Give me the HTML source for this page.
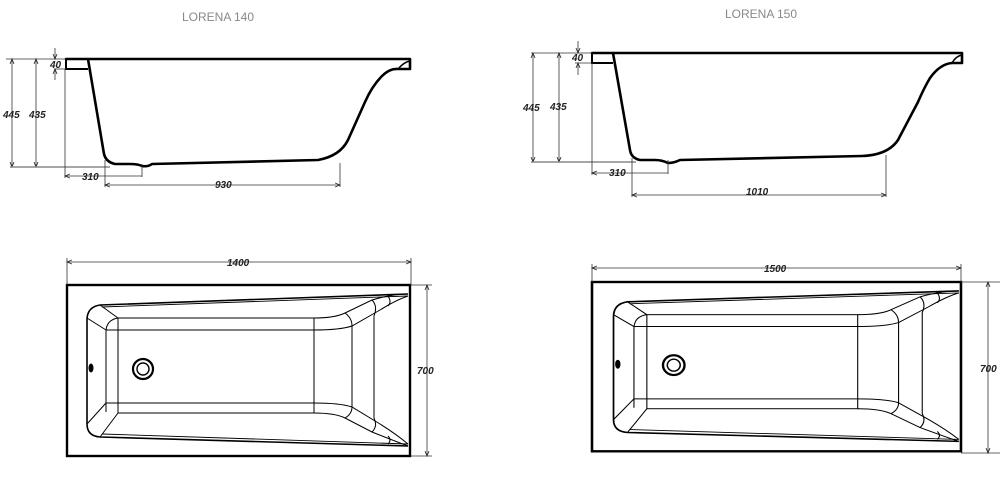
<!DOCTYPE html>
<html><head><meta charset="utf-8"><style>
html,body{margin:0;padding:0;background:#fff;width:1000px;height:482px;overflow:hidden}
svg{display:block}
text{font-family:"Liberation Sans",sans-serif;font-style:italic;font-weight:bold;font-size:10px;fill:#222}
.t{font-style:normal;font-weight:normal;font-size:12px;fill:#888}
</style></head><body>
<svg width="1000" height="482" viewBox="0 0 1000 482" xmlns="http://www.w3.org/2000/svg">
<defs>
<marker id="a" markerWidth="6" markerHeight="6" refX="5" refY="3" orient="auto-start-reverse" markerUnits="userSpaceOnUse"><path d="M0,1 L5,3 L0,5" fill="none" stroke="#222" stroke-width="0.8"/></marker>
</defs>
<text class="t" x="218" y="21" text-anchor="middle">LORENA 140</text>
<text class="t" x="761" y="18" text-anchor="middle">LORENA 150</text>

<!-- Side view 140 -->
<g fill="none" stroke="#000">
<path d="M66,59 L410,59 L410,69 L398,69 Q390,68 382,76 Q372,86 365,102 L348,140 Q340,156 318,160 L152,164 Q148,167 142,166 Q138,164 130,164 L115,164 Q106,162 104,154 L88,59 Z" stroke-width="2.6" stroke-linejoin="round"/>
<path d="M66,59 L66,69 L88,69" stroke-width="2"/>
<path d="M398,69 Q404,62 410,61" stroke-width="1.5"/>
<g stroke-width="0.8" stroke="#333">
<line x1="6" y1="59" x2="66" y2="59"/>
<line x1="12" y1="59" x2="12" y2="167" marker-start="url(#a)" marker-end="url(#a)"/>
<line x1="36" y1="59" x2="36" y2="167" marker-start="url(#a)" marker-end="url(#a)"/>
<line x1="10" y1="167" x2="110" y2="167" stroke="#888" stroke-width="1.5"/>
<line x1="55" y1="48" x2="55" y2="59" marker-end="url(#a)"/>
<line x1="55" y1="80" x2="55" y2="69" marker-end="url(#a)"/>
<line x1="54" y1="69" x2="66" y2="69"/>
<line x1="65" y1="69" x2="65" y2="178"/>
<line x1="65" y1="176" x2="142" y2="176" marker-start="url(#a)"/>
<line x1="142" y1="164" x2="142" y2="177"/>
<line x1="105" y1="160" x2="105" y2="187"/>
<line x1="105" y1="185" x2="340" y2="185" marker-start="url(#a)" marker-end="url(#a)"/>
<line x1="340" y1="163" x2="340" y2="187"/>
</g></g>
<text x="3" y="118">445</text><text x="29" y="118">435</text><text x="50" y="68">40</text>
<text x="82" y="180">310</text><text x="215" y="188">930</text>

<!-- Side view 150 -->
<g fill="none" stroke="#000">
<path d="M592,53 L962,53 L962,63 L952,63 Q940,64 930,78 Q924,88 918,102 L898,140 Q888,155 862,156 L680,160 Q674,163 668,163 Q662,160 655,160 L640,160 Q631,158 630,150 L613,53 Z" stroke-width="2.6" stroke-linejoin="round"/>
<path d="M592,53 L592,63 L613,63" stroke-width="2"/>
<path d="M952,63 Q956,56 962,55" stroke-width="1.5"/>
<g stroke-width="0.8" stroke="#333">
<line x1="531" y1="53" x2="592" y2="53"/>
<line x1="533" y1="53" x2="533" y2="162" marker-start="url(#a)" marker-end="url(#a)"/>
<line x1="559" y1="53" x2="559" y2="162" marker-start="url(#a)" marker-end="url(#a)"/>
<line x1="531" y1="162" x2="636" y2="162" stroke="#888" stroke-width="1.5"/>
<line x1="578" y1="41" x2="578" y2="53" marker-end="url(#a)"/>
<line x1="578" y1="75" x2="578" y2="63" marker-end="url(#a)"/>
<line x1="575" y1="63" x2="592" y2="63"/>
<line x1="592" y1="63" x2="592" y2="175"/>
<line x1="592" y1="173" x2="668" y2="173" marker-start="url(#a)"/>
<line x1="668" y1="160" x2="668" y2="174"/>
<line x1="632" y1="158" x2="632" y2="197"/>
<line x1="632" y1="195" x2="886" y2="195" marker-start="url(#a)" marker-end="url(#a)"/>
<line x1="886" y1="155" x2="886" y2="197"/>
</g></g>
<text x="523" y="111">445</text><text x="550" y="110">435</text><text x="572" y="61">40</text>
<text x="609" y="176">310</text><text x="746" y="195">1010</text>

<!-- Top view group -->
<g id="top" fill="none" stroke="#000">
<rect x="67" y="285" width="343" height="171" stroke-width="2.4"/>
<path d="M408,294 L100,305 Q87,307 87,320 L87,424 Q87,436 100,437 L408,446" stroke-width="1.6"/>
<path d="M408,296 L102,307" stroke-width="0.9"/>
<path d="M408,444 L102,434" stroke-width="0.9"/>
<g stroke-width="1">
<rect x="118" y="318" width="196" height="95"/>
<path d="M106,412 L106,332 Q106,320 118,318"/>
<path d="M106,330 L314,330 Q340,330 352,326 L380,310 Q396,300 408,296"/>
<path d="M314,318 Q335,318 345,313 L372,300 Q392,294 408,294"/>
<path d="M106,403 L314,403 Q340,403 352,407 L380,424 Q396,434 408,444"/>
<path d="M314,413 Q335,413 345,418 L372,432 Q392,440 408,446"/>
<path d="M100,305 L118,318 M87,318 L106,330 M100,437 L118,413 M87,424 L106,403"/>
<path d="M345,313 Q352,318 352,326 L352,407 Q352,414 345,418"/>
<path d="M372,300 Q378,306 374,316 L374,418 Q378,426 372,432"/>
<path d="M388,296 Q392,302 388,306 M388,436 Q392,440 388,444"/>
</g>
<circle cx="143" cy="369" r="10" stroke-width="2.2"/>
<circle cx="143" cy="369" r="6" stroke-width="1.4"/>
<ellipse cx="91" cy="368" rx="2" ry="4" fill="#000"/>
</g>
<g stroke="#333" stroke-width="0.8" fill="none">
<line x1="67" y1="258" x2="67" y2="285"/><line x1="411" y1="258" x2="411" y2="285"/>
<line x1="67" y1="262" x2="411" y2="262" marker-start="url(#a)" marker-end="url(#a)"/>
<line x1="411" y1="285" x2="432" y2="285"/><line x1="411" y1="456" x2="432" y2="456"/>
<line x1="427" y1="285" x2="427" y2="456" marker-start="url(#a)" marker-end="url(#a)"/>
</g>
<text x="227" y="266">1400</text><text x="417" y="374">700</text>

<use href="#top" transform="translate(592,282) scale(1.0757,0.99) translate(-67,-285)"/>
<g stroke="#333" stroke-width="0.8" fill="none">
<line x1="592" y1="264" x2="592" y2="282"/><line x1="961" y1="264" x2="961" y2="282"/>
<line x1="592" y1="268" x2="961" y2="268" marker-start="url(#a)" marker-end="url(#a)"/>
<line x1="961" y1="282" x2="1000" y2="282"/><line x1="961" y1="453" x2="1000" y2="453"/>
<line x1="988" y1="282" x2="988" y2="453" marker-start="url(#a)" marker-end="url(#a)"/>
</g>
<text x="764" y="272">1500</text><text x="980" y="372">700</text>
</svg>
</body></html>
